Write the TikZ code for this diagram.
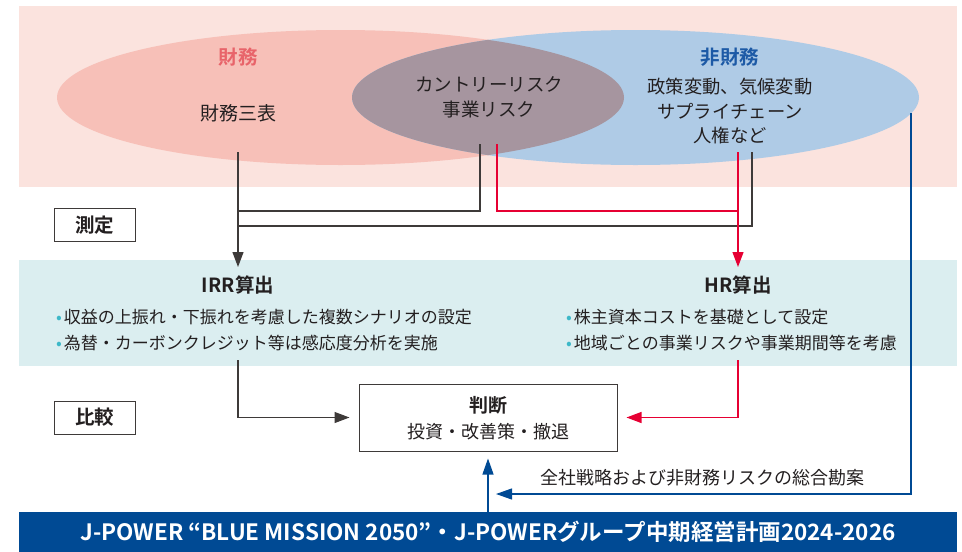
\documentclass[tikz,border=0pt]{standalone}
\usepackage{fontspec}
\setmainfont{Noto Sans CJK JP}[BoldFont={Noto Sans CJK JP Bold}]
\usetikzlibrary{arrows.meta}
\definecolor{bandpink}{HTML}{FBE3DE}
\definecolor{ellpink}{HTML}{F7C0B8}
\definecolor{ellblue}{HTML}{AFCBE6}
\definecolor{ellmix}{HTML}{A6959F}
\definecolor{bandblue}{HTML}{DBEEF0}
\definecolor{txt}{HTML}{231F20}
\definecolor{redtxt}{HTML}{E8646A}
\definecolor{bluetxt}{HTML}{1D5AA6}
\definecolor{lnblack}{HTML}{3E3A39}
\definecolor{lnred}{HTML}{E60033}
\definecolor{lnblue}{HTML}{3A6BAA}
\definecolor{arblue}{HTML}{004A94}
\definecolor{barblue}{HTML}{004A94}
\definecolor{bulc}{HTML}{3DB8C8}
\newcommand{\bul}{\textcolor{bulc}{•}\hspace{2pt}}
\tikzset{
  lbl/.style={text=txt, inner sep=0pt, font=\fontsize{18.5}{25}\selectfont, align=center},
  head/.style={inner sep=0pt, font=\bfseries\fontsize{19.5}{24}\selectfont},
  bultxt/.style={text=txt, inner sep=0pt, anchor=west, font=\fontsize{17}{22}\selectfont},
  tagbox/.style={draw=lnblack, line width=1pt, fill=white, minimum width=81pt, minimum height=33pt, inner sep=0pt, text=txt, font=\bfseries\fontsize{19.5}{24}\selectfont},
  blk/.style={draw=lnblack, line width=1.2pt},
  rd/.style={draw=lnred, line width=1.2pt},
  bl/.style={draw=lnblue, line width=1.2pt},
  tip/.style={-{Triangle[width=11pt,length=15pt]}},
}
\begin{document}
\begin{tikzpicture}[x=1pt,y=-1pt]
\useasboundingbox (0,0) rectangle (962,552);
% background bands
\fill[bandpink] (19,6) rectangle (957,187);
\fill[bandblue] (19,260) rectangle (957,366);
% ellipses
\fill[ellpink] (340.5,97.5) ellipse [x radius=283.5, y radius=67.5];
\fill[ellblue] (635.5,97.5) ellipse [x radius=283.5, y radius=67.5];
\begin{scope}
  \clip (340.5,97.5) ellipse [x radius=283.5, y radius=67.5];
  \fill[ellmix] (635.5,97.5) ellipse [x radius=283.5, y radius=67.5];
\end{scope}
% ellipse texts
\node[head, text=redtxt] (fin) at (238,57) {財務};
\node[lbl, font=\fontsize{19}{25}\selectfont] (fin3) at (238,113) {財務三表};
\node[lbl] (risk) at (489,97.5) {カントリーリスク\\事業リスク};
\node[head, text=bluetxt] (nfin) at (730,57) {非財務};
\node[lbl, font=\fontsize{18.3}{24.5}\selectfont] (nfinlist) at (730,111) {政策変動、気候変動\\サプライチェーン\\人権など};
% tag boxes
\node[tagbox] (meas) at (94.5,225) {測定};
\node[tagbox] (comp) at (94.5,417.5) {比較};
% IRR / HR
\node[head, text=txt] (irr) at (238,285) {IRR算出};
\node[head, text=txt] (hr) at (738,285) {HR算出};
\node[bultxt] (irr1) at (56,317) {\bul 収益の上振れ・下振れを考慮した複数シナリオの設定};
\node[bultxt] (irr2) at (56,343) {\bul 為替・カーボンクレジット等は感応度分析を実施};
\node[bultxt] (hr1) at (566,317) {\bul 株主資本コストを基礎として設定};
\node[bultxt] (hr2) at (566,343) {\bul 地域ごとの事業リスクや事業期間等を考慮};
% judgement box
\node[draw=lnblack, line width=1pt, fill=white, minimum width=258pt, minimum height=67pt, inner sep=0pt] (judge) at (488,417.5) {};
\node[head, text=txt, font=\bfseries\fontsize{19}{24}\selectfont] (judgeT) at (488,405) {判断};
\node[lbl, font=\fontsize{18}{24}\selectfont] (judgeS) at (488,432) {投資・改善策・撤退};
% comprehensive text
\node[lbl, font=\fontsize{18}{24}\selectfont] (comptxt) at (702,478) {全社戦略および非財務リスクの総合勘案};
% bottom bar
\node[fill=barblue, minimum width=938pt, minimum height=40pt, inner sep=0pt, text=white, font=\bfseries\fontsize{22.5}{26}\selectfont] (bar) at (488,532) {J-POWER “BLUE MISSION 2050”・J-POWERグループ中期経営計画2024-2026};
% connector anchor coordinates
\coordinate (finS) at (238,152);
\coordinate (riskSb) at (480,144);
\coordinate (riskSr) at (497,144);
\coordinate (nfinSr) at (738,152);
\coordinate (nfinSb) at (752,152);
\coordinate (irrT) at (238,267);
\coordinate (hrT) at (738,267);
\coordinate (irrB) at (238,360);
\coordinate (hrB) at (738,360);
\coordinate (nfinEdge) at (911,113);
\coordinate (blueL) at (496,494);
\coordinate (joinA) at (238,211);
\coordinate (joinB) at (238,226);
\coordinate (joinR) at (738,211);
% connectors
\draw[blk, tip] (finS) -- (irrT);
\draw[blk] (riskSb) |- (joinA);
\draw[blk] (nfinSb) |- (joinB);
\draw[rd] (riskSr) |- (joinR);
\draw[rd, tip] (nfinSr) -- (hrT);
\draw[blk, tip, shorten >=9pt] (irrB) |- (judge.west);
\draw[rd, tip, shorten >=9pt] (hrB) |- (judge.east);
\draw[bl, -{Triangle[width=11pt,length=16pt]}, arblue] (nfinEdge) |- (blueL);
\draw[bl, draw=arblue, -{Triangle[width=11pt,length=16pt]}, shorten >=7pt] (bar.north -| judge.south) -- (judge.south);
\end{tikzpicture}
\end{document}
